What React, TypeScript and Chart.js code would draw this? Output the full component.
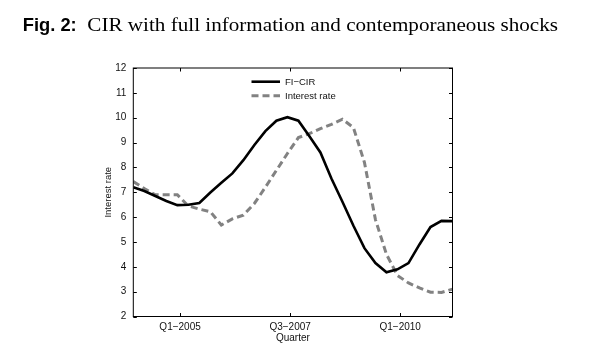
import React, { useEffect, useRef } from "react";
import { Chart, registerables } from "chart.js";

Chart.register(...registerables);

// Quarterly observations (index 0..29)
const periods = [0, 1, 2, 3, 4, 5, 6, 7, 8, 9, 10, 11, 12, 13, 14, 15, 16, 17, 18, 19, 20, 21, 22, 23, 24, 25, 26, 27, 28, 29];
const fiCir = [7.2, 7.05, 6.85, 6.65, 6.48, 6.5, 6.57, 6.99, 7.38, 7.76, 8.29, 8.9, 9.46, 9.88, 10.02, 9.88, 9.25, 8.6, 7.55, 6.62, 5.65, 4.75, 4.15, 3.78, 3.9, 4.15, 4.9, 5.6, 5.85, 5.84];
const interestRate = [7.43, 7.15, 6.9, 6.9, 6.9, 6.45, 6.32, 6.22, 5.68, 5.93, 6.08, 6.55, 7.2, 7.88, 8.56, 9.2, 9.36, 9.56, 9.73, 9.94, 9.6, 8.2, 5.9, 4.5, 3.65, 3.35, 3.15, 2.98, 2.97, 3.1];
const seriesLabels = ["FI\u2212CIR", "Interest rate"];
const xTickValues = [4.25, 14.25, 24.25];
const xTickLabels = ["Q1\u22122005", "Q3\u22122007", "Q1\u22122010"];
const yTickValues = [2, 3, 4, 5, 6, 7, 8, 9, 10, 11, 12];

const titleBold = "Fig. 2:";
const titleRest = "CIR with full information and contemporaneous shocks";

const decorPlugin = {
  id: "decor",
  afterDatasetsDraw(chart: any) {
    const { ctx, chartArea } = chart;
    const { left, right, top, bottom } = chartArea;
    const xs = chart.scales.x;
    const ys = chart.scales.y;
    ctx.save();
    ctx.strokeStyle = "#000";
    ctx.lineWidth = 1;
    ctx.strokeRect(left, top, right - left, bottom - top);
    const tl = 3.5;
    ctx.beginPath();
    yTickValues.forEach((v) => {
      const y = Math.round(ys.getPixelForValue(v)) + 0.5;
      ctx.moveTo(left, y);
      ctx.lineTo(left + tl, y);
      ctx.moveTo(right, y);
      ctx.lineTo(right - tl, y);
    });
    xTickValues.forEach((v) => {
      const x = Math.round(xs.getPixelForValue(v)) + 0.5;
      ctx.moveTo(x, bottom);
      ctx.lineTo(x, bottom - tl);
      ctx.moveTo(x, top);
      ctx.lineTo(x, top + tl);
    });
    ctx.stroke();
    ctx.restore();
  },
  afterDraw(chart: any) {
    const { ctx } = chart;
    ctx.save();
    // Legend
    const lx0 = 251.5;
    const lx1 = 280;
    const tx = 285;
    const rows = [81.7, 95.7];
    chart.data.datasets.forEach((ds: any, i: number) => {
      const y = rows[i];
      ctx.beginPath();
      ctx.strokeStyle = ds.borderColor;
      ctx.lineWidth = ds.borderWidth;
      ctx.setLineDash(ds.borderDash || []);
      ctx.moveTo(lx0, y);
      ctx.lineTo(lx1, y);
      ctx.stroke();
      ctx.setLineDash([]);
      ctx.fillStyle = "#111";
      ctx.font = "9.5px 'Liberation Sans', Arial, sans-serif";
      ctx.textBaseline = "middle";
      ctx.textAlign = "left";
      ctx.fillText(ds.label, tx, y + 0.5);
    });
    // Title
    ctx.fillStyle = "#000";
    ctx.textBaseline = "alphabetic";
    ctx.font = "bold 18px 'Liberation Sans', Arial, sans-serif";
    const wb = ctx.measureText(titleBold).width;
    ctx.save();
    ctx.translate(22.7, 31);
    ctx.scale(54 / wb, 1);
    ctx.fillText(titleBold, 0, 0);
    ctx.restore();
    ctx.font = "18px 'Liberation Serif', 'Times New Roman', serif";
    const wr = ctx.measureText(titleRest).width;
    ctx.save();
    ctx.translate(87.3, 31);
    ctx.scale(470.7 / wr, 1);
    ctx.fillText(titleRest, 0, 0);
    ctx.restore();
    ctx.restore();
  },
};

export default function App() {
  const ref = useRef<HTMLCanvasElement | null>(null);
  useEffect(() => {
    if (!ref.current) return;
    const chart = new Chart(ref.current, {
      type: "line",
      data: {
        datasets: [
          {
            label: seriesLabels[0],
            data: periods.map((p, i) => ({ x: p, y: fiCir[i] })),
            borderColor: "#000000",
            borderWidth: 2.6,
            pointRadius: 0,
            fill: false,
            tension: 0,
          },
          {
            label: seriesLabels[1],
            data: periods.map((p, i) => ({ x: p, y: interestRate[i] })),
            borderColor: "#828282",
            borderWidth: 3,
            borderDash: [7, 4],
            pointRadius: 0,
            fill: false,
            tension: 0,
          },
        ],
      },
      options: {
        responsive: false,
        animation: false,
        devicePixelRatio: 1,
        layout: { padding: { left: 0, right: 142.5, top: 68, bottom: 0 } },
        plugins: {
          legend: { display: false },
          tooltip: { enabled: false },
          title: { display: false },
        },
        scales: {
          x: {
            type: "linear",
            min: 0,
            max: 29,
            afterBuildTicks: (scale: any) => {
              scale.ticks = xTickValues.map((v) => ({ value: v }));
            },
            afterFit: (scale: any) => {
              scale.height = 39.5;
            },
            grid: { display: false, drawTicks: false },
            border: { display: false },
            ticks: {
              padding: 5,
              maxRotation: 0,
              autoSkip: false,
              color: "#111",
              font: { family: "'Liberation Sans', Arial, sans-serif", size: 10 },
              callback: (v: any) => {
                const i = xTickValues.indexOf(Number(v));
                return i >= 0 ? xTickLabels[i] : "";
              },
            },
            title: {
              display: true,
              text: "Quarter",
              color: "#111",
              font: { family: "'Liberation Sans', Arial, sans-serif", size: 10 },
              padding: { top: 0, bottom: 12 },
            },
          },
          y: {
            type: "linear",
            min: 2,
            max: 12,
            afterBuildTicks: (scale: any) => {
              scale.ticks = yTickValues.map((v) => ({ value: v }));
            },
            afterFit: (scale: any) => {
              scale.width = 133.3;
            },
            grid: { display: false, drawTicks: false },
            border: { display: false },
            ticks: {
              padding: 7,
              color: "#111",
              font: { family: "'Liberation Sans', Arial, sans-serif", size: 10 },
            },
            title: {
              display: true,
              text: "Interest rate",
              color: "#111",
              font: { family: "'Liberation Sans', Arial, sans-serif", size: 9.5 },
              padding: { top: 103, bottom: 0 },
            },
          },
        },
      },
      plugins: [decorPlugin],
    });
    return () => chart.destroy();
  }, []);
  return (
    <div style={{ position: "absolute", left: 0, top: 0, width: 595, height: 356, background: "#fff" }}>
      <canvas ref={ref} width={595} height={356} style={{ width: 595, height: 356, display: "block" }} />
    </div>
  );
}
